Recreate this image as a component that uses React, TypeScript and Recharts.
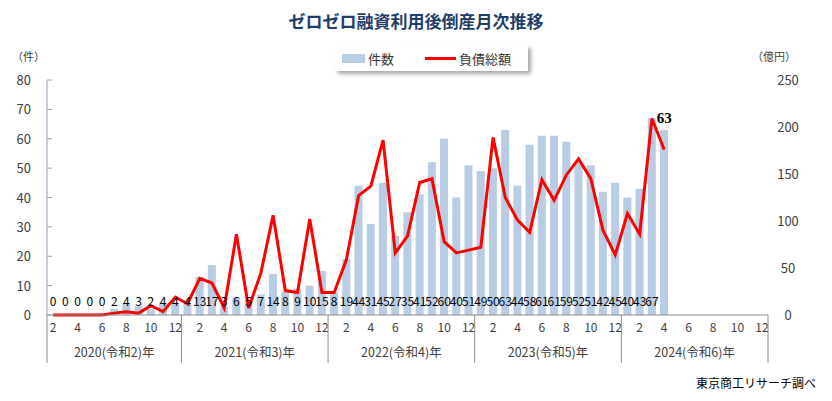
import { ComposedChart, Bar, Line, XAxis, YAxis, Legend } from "recharts"

// 年・月（2020年は2月から）
const years = [2020, 2021, 2022, 2023, 2024]
const eraLabels = ["令和2", "令和3", "令和4", "令和5", "令和6"]
const startMonths = [2, 1, 1, 1, 1]

// 件数
const counts2020 = [0, 0, 0, 0, 0, 2, 4, 3, 2, 4, 4]
const counts2021 = [4, 13, 17, 3, 6, 5, 7, 14, 8, 9, 10, 15]
const counts2022 = [8, 19, 44, 31, 45, 27, 35, 41, 52, 60, 40, 51]
const counts2023 = [49, 50, 63, 44, 58, 61, 61, 59, 52, 51, 42, 45]
const counts2024 = [40, 43, 67, 63]

// 負債総額（億円）
const debt2020 = [0, 0, 0, 0, 0, 2, 3.5, 2, 10, 3.5, 19]
const debt2021 = [12, 39, 34, 7.5, 86, 7.5, 44.5, 106, 26, 24, 102, 24]
const debt2022 = [24, 59, 127, 137, 186, 66, 84, 141, 145, 78, 66, 69]
const debt2023 = [72, 189, 125, 101, 88, 144, 122, 149, 166, 145, 90, 64]
const debt2024 = [108, 86, 209, 176]

const countTicks = [0, 10, 20, 30, 40, 50, 60, 70, 80]
const debtTicks = [0, 50, 100, 150, 200, 250]

const countsByYear = [counts2020, counts2021, counts2022, counts2023, counts2024]
const debtByYear = [debt2020, debt2021, debt2022, debt2023, debt2024]

const data: any[] = []
years.forEach((year, yi) => {
  for (let m = startMonths[yi]; m <= 12; m++) {
    const k = m - startMonths[yi]
    data.push({
      key: `${year}-${m}`,
      year,
      yi,
      month: m,
      count: countsByYear[yi][k],
      debt: debtByYear[yi][k],
    })
  }
})

let lastCountIndex = 0
data.forEach((d, i) => {
  if (d.count != null) lastCountIndex = i
})

const W = 832
const H = 401
const PLOT_LEFT = 47
const PLOT_RIGHT = 768
const PLOT_TOP = 80
const PLOT_BOTTOM = 315
const BW = (PLOT_RIGHT - PLOT_LEFT) / data.length
const FONT = "'Noto Sans CJK JP', 'Noto Sans', sans-serif"
const TEXT = "#404040"
const GRID = "#8c8c8c"

const MonthTick = (props: any) => {
  const { x } = props
  const index = props.index ?? props.payload?.index ?? 0
  const d = data[index]
  if (!d) return null
  const els: any[] = []
  if (d.month % 2 === 0) {
    els.push(
      <text key="m" x={x} y={PLOT_BOTTOM + 17} textAnchor="middle" fontSize={12} fill={TEXT} fontFamily={FONT}>
        {d.month}
      </text>
    )
  }
  if (d.month === 1 || index === 0) {
    els.push(<line key="s" x1={x - BW / 2} x2={x - BW / 2} y1={PLOT_BOTTOM} y2={PLOT_BOTTOM + 48} stroke={GRID} />)
  }
  if (index === data.length - 1) {
    els.push(<line key="e" x1={x + BW / 2} x2={x + BW / 2} y1={PLOT_BOTTOM} y2={PLOT_BOTTOM + 48} stroke={GRID} />)
  }
  if (d.month === 7) {
    const cx = d.year === 2020 ? x : x - BW / 2
    els.push(
      <text key="y" x={cx} y={PLOT_BOTTOM + 42} textAnchor="middle" fontSize={12.5} fill={TEXT} fontFamily={FONT}>
        {`${d.year}(${eraLabels[d.yi]})年`}
      </text>
    )
  }
  return <g>{els}</g>
}

const LeftTick = (props: any) => {
  const { y, payload } = props
  return (
    <g>
      <line x1={PLOT_LEFT} x2={PLOT_LEFT + 5} y1={y} y2={y} stroke="#8ea4c0" />
      <text x={31} y={y + 5} textAnchor="end" fontSize={13} fill={TEXT} fontFamily={FONT}>
        {payload.value}
      </text>
    </g>
  )
}

const RightTick = (props: any) => {
  const { y, payload } = props
  return (
    <text x={788} y={y + 5} textAnchor="middle" fontSize={13} fill={TEXT} fontFamily={FONT}>
      {payload.value}
    </text>
  )
}

// 件数ラベル（棒の根元に表示、最終月だけ上に太字）
const CountLabel = (props: any) => {
  const { x, value } = props
  if (value == null || x == null) return null
  const index = Math.round((x - PLOT_LEFT) / BW - 0.5)
  if (index === lastCountIndex) {
    return (
      <text x={x} y={123} textAnchor="middle" fontSize={15} fontWeight="bold" fill="#000" fontFamily="'Liberation Serif', serif">
        {value}
      </text>
    )
  }
  return (
    <text x={x} y={PLOT_BOTTOM - 9} textAnchor="middle" fontSize={12} fill="#000" fontFamily={FONT}>
      {value}
    </text>
  )
}

const LegendBox = () => (
  <div
    style={{
      width: 193,
      height: 26,
      background: "#fff",
      boxShadow: "3px 3px 4px rgba(0,0,0,0.35)",
      display: "flex",
      alignItems: "center",
      fontFamily: FONT,
      fontSize: 13,
      color: "#333",
    }}
  >
    <span style={{ display: "inline-block", width: 23, height: 9, background: "#b8cce4", marginLeft: 7, marginRight: 3 }} />
    <span>件数</span>
    <span style={{ display: "inline-block", width: 31, height: 3, background: "#ff0000", marginLeft: 31, marginRight: 3 }} />
    <span>負債総額</span>
  </div>
)

export default function App() {
  return (
    <div style={{ position: "absolute", left: 0, top: 0, width: W, height: H, background: "#fff", fontFamily: FONT }}>
      <div
        style={{
          position: "absolute",
          top: 8,
          left: 0,
          width: W,
          textAlign: "center",
          fontSize: 17,
          fontWeight: "bold",
          color: "#1f3d6b",
        }}
      >
        ゼロゼロ融資利用後倒産月次推移
      </div>
      <div style={{ position: "absolute", top: 48, left: 12, fontSize: 11, color: TEXT }}>（件）</div>
      <div style={{ position: "absolute", top: 48, left: 752, fontSize: 11, color: TEXT }}>（億円）</div>
      <div style={{ position: "absolute", top: 374, left: 696, fontSize: 12, color: "#000" }}>東京商工リサーチ調べ</div>
      <ComposedChart width={W} height={H} data={data} margin={{ top: PLOT_TOP, right: 0, bottom: 0, left: 0 }}>
        <XAxis
          dataKey="key"
          xAxisId={0}
          height={H - PLOT_BOTTOM}
          interval={0}
          tickLine={false}
          axisLine={{ stroke: GRID }}
          tick={<MonthTick />}
        />
        <YAxis
          yAxisId="left"
          width={PLOT_LEFT}
          domain={[0, 80]}
          ticks={countTicks}
          tickLine={false}
          axisLine={{ stroke: "#8ea4c0" }}
          tick={<LeftTick />}
        />
        <YAxis
          yAxisId="right"
          orientation="right"
          width={W - PLOT_RIGHT}
          domain={[0, 250]}
          ticks={debtTicks}
          tickLine={false}
          axisLine={false}
          tick={<RightTick />}
        />
        <Legend
          layout="horizontal"
          verticalAlign="middle"
          align="center"
          content={<LegendBox />}
          wrapperStyle={{ position: "absolute", top: 45, left: 335, width: 193 }}
        />
        <Bar dataKey="count" name="件数" yAxisId="left" fill="#b8cce4" barSize={8} isAnimationActive={false} />
        <Line
          dataKey="debt"
          name="負債総額"
          yAxisId="right"
          type="linear"
          stroke="#ff0000"
          strokeWidth={3}
          dot={false}
          isAnimationActive={false}
        />
        {/* 件数ラベル用の透明な系列 */}
        <Line
          dataKey="count"
          yAxisId="left"
          stroke="none"
          dot={false}
          activeDot={false}
          legendType="none"
          label={<CountLabel />}
          isAnimationActive={false}
        />
      </ComposedChart>
    </div>
  )
}
